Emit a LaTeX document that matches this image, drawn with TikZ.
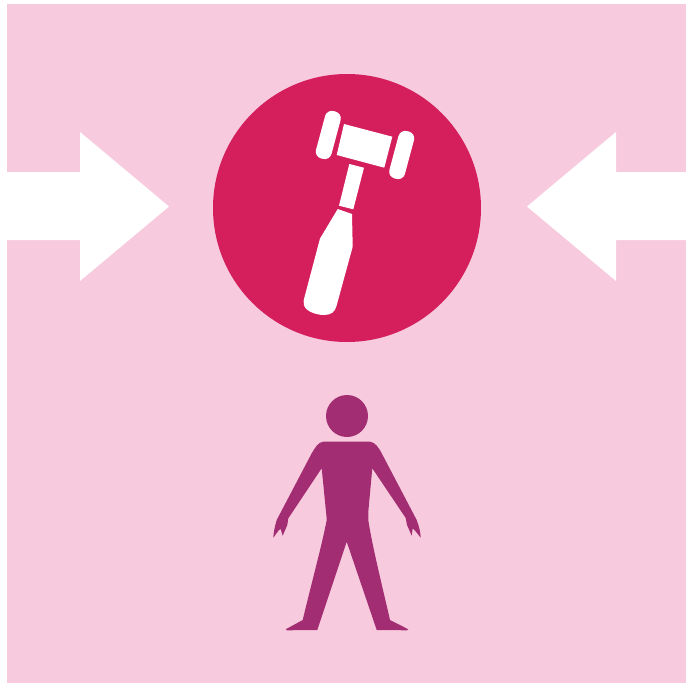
\documentclass[tikz,border=0pt]{standalone}
\definecolor{bgpink}{HTML}{F7CBDD}
\definecolor{crimson}{HTML}{D41F5C}
\definecolor{plum}{HTML}{A22D72}
\tikzset{
  bgshape/.style={fill=bgpink,draw=none},
  bigarrow/.style={fill=white,draw=none},
  hammer/.style={fill=white,draw=none},
  hammerend/.style={fill=white,draw=none,rounded corners=7pt},
  person/.style={fill=plum,draw=none}
}
\begin{document}
\begin{tikzpicture}[x=1pt,y=-1pt]
\useasboundingbox (0,0) rectangle (686,683);
\fill[white] (0,0) rectangle (686,683);
\fill[bgshape] (7,4) rectangle (686,683);
% arrows
\fill[bigarrow] (7,172) -- (80,172) -- (80,132) -- (169,206.5) -- (80,281) -- (80,240) -- (7,240) -- cycle;
\fill[bigarrow] (686,172) -- (616,172) -- (616,132) -- (527,206.5) -- (616,281) -- (616,240) -- (686,240) -- cycle;
% disc
\fill[crimson] (347,208) circle[radius=134];
% gavel
\fill[hammerend] (326.9,109.3) -- (342.4,113.4) -- (329.7,160.7) -- (314.2,156.6) -- cycle;
\fill[hammer] (344,124) -- (392.3,136.7) -- (384.3,167.7) -- (336.7,155) -- cycle;
\fill[hammerend] (400.3,129.3) -- (415.8,133.4) -- (403.1,180.7) -- (387.6,176.6) -- cycle;
\fill[hammer] (349.3,164) -- (364,167.7) -- (353.3,209.3) -- (339,205.7) -- cycle;
\fill[hammer] (337.7,209) -- (352,214) -- (352.7,246.7)
  -- (336.5,306) .. controls (335,312) and (331,315) .. (324,315)
  .. controls (316,315) and (305,311) .. (304,305) .. controls (303,302) and (304,300) .. (304,299)
  -- (320,238.5) -- cycle;
% person
\fill[person] (347,416) circle[radius=21];
\fill[person] (323.3,441.7) -- (370,441.7)
  .. controls (375,442) and (379,448) .. (381.7,453.3)
  -- (416.7,520) .. controls (419,526) and (420.5,532) .. (420.7,537.7)
  -- (414.5,530) -- (412.7,528.3) -- (411.7,535.7) -- (407,525) -- (405.7,518)
  -- (372.3,468.3) -- (368.3,511.7)
  .. controls (368.5,515) and (368.3,518) .. (368.3,520)
  .. controls (372,545) and (382,585) .. (390,620)
  -- (408.3,629.3) .. controls (408.5,630) and (408,630.3) .. (407,630.3) -- (376.7,630)
  -- (346.7,541.7) -- (317.3,630) -- (287,630.3) .. controls (286,630.3) and (285.5,630) .. (285.7,629.3)
  -- (302.7,620)
  .. controls (311,585) and (322,545) .. (326.7,520)
  .. controls (326.7,518) and (326.3,515) .. (326,511.7)
  -- (321.7,468.3) -- (288.3,518.3) -- (287.3,525) -- (282.7,535.7) -- (280.7,529) -- (279,530)
  -- (273.3,537.7) .. controls (273.5,532) and (275,526) .. (276.7,520)
  -- (311.7,453.3) .. controls (315,448) and (318,442) .. (323.3,441.7) -- cycle;
\end{tikzpicture}
\end{document}
